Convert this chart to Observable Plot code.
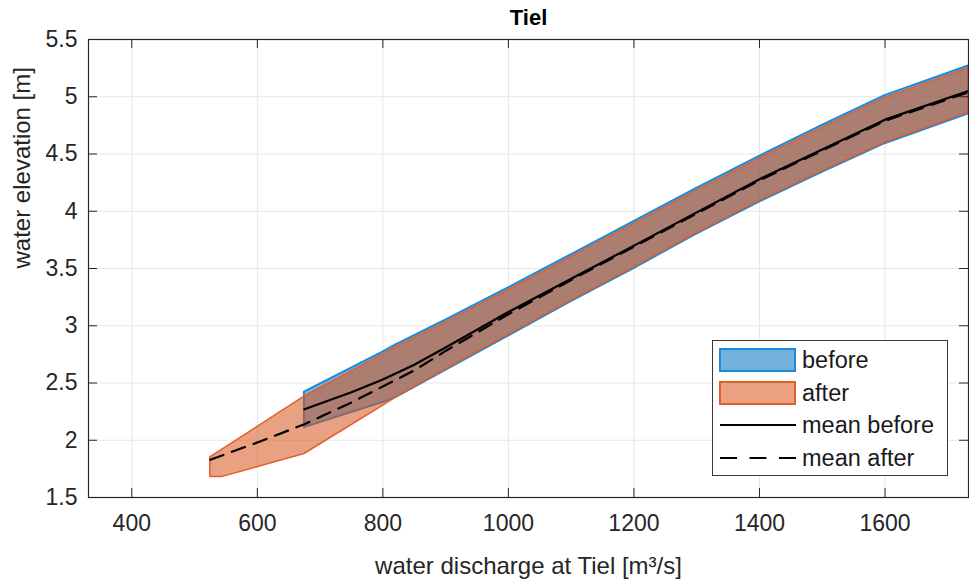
<!DOCTYPE html>
<html><head><meta charset="utf-8">
<script src="https://cdn.jsdelivr.net/npm/d3@7"></script>
<script src="https://cdn.jsdelivr.net/npm/@observablehq/plot@0.6"></script>
<style>
body{margin:0;background:#fff;font-family:"Liberation Sans",Arial,sans-serif;}
#wrap{position:relative;width:969px;height:585px;}
#legend{position:absolute;left:712px;top:340px;width:236px;height:136px;border:1px solid #3a3a3a;background:#fff;box-sizing:border-box;}
.row{position:absolute;left:6px;height:26px;display:flex;align-items:center;color:#1a1a1a;font-size:23.5px;}
.sw{width:77px;height:24px;box-sizing:border-box;margin-right:6px;}
</style></head>
<body><div id="wrap"></div>
<script>
// ---- data ----
const title = "Tiel";
const xLabel = "water discharge at Tiel [m³/s]";
const yLabel = "water elevation [m]";
const xTicks = [400, 600, 800, 1000, 1200, 1400, 1600];
const yTicks = [1.5, 2, 2.5, 3, 3.5, 4, 4.5, 5, 5.5];
const xDomain = [331, 1733];
const yDomain = [1.5, 5.5];

const beforeQ    = [675, 800, 820, 900, 1000, 1100, 1200, 1300, 1400, 1500, 1600, 1733];
const beforeLow  = [2.11, 2.33, 2.37, 2.61, 2.91, 3.21, 3.50, 3.80, 4.08, 4.34, 4.59, 4.85];
const beforeHigh = [2.42, 2.77, 2.83, 3.05, 3.33, 3.62, 3.91, 4.20, 4.48, 4.75, 5.01, 5.27];

const afterQ    = [525, 545, 675, 800, 820, 900, 1000, 1100, 1200, 1300, 1400, 1500, 1600, 1733];
const afterLow  = [1.68, 1.68, 1.88, 2.30, 2.37, 2.62, 2.92, 3.22, 3.51, 3.81, 4.09, 4.35, 4.60, 4.86];
const afterHigh = [1.85, 1.92, 2.38, 2.75, 2.81, 3.03, 3.31, 3.60, 3.89, 4.18, 4.46, 4.73, 4.99, 5.25];

const meanBeforeQ = [675, 750, 800, 850, 900, 1000, 1100, 1200, 1300, 1400, 1500, 1600, 1733];
const meanBeforeY = [2.27, 2.42, 2.53, 2.66, 2.81, 3.12, 3.41, 3.70, 3.99, 4.28, 4.54, 4.80, 5.05];

const meanAfterQ = [525, 600, 675, 750, 800, 850, 900, 1000, 1100, 1200, 1300, 1400, 1500, 1600, 1733];
const meanAfterY = [1.83, 1.98, 2.14, 2.33, 2.47, 2.61, 2.78, 3.10, 3.40, 3.69, 3.98, 4.27, 4.53, 4.79, 5.04];

const seriesNames = ["before", "after", "mean before", "mean after"];
const colBeforeFill = "#0072BD", colBeforeEdge = "#1a8ae0";
const colAfterFill = "#D95319", colAfterEdge = "#e0602a";
const opBefore = 0.55, opAfter = 0.55;

// ---- tables ----
const before = beforeQ.map((q, i) => ({q, lo: beforeLow[i], hi: beforeHigh[i]}));
const after = afterQ.map((q, i) => ({q, lo: afterLow[i], hi: afterHigh[i]}));
const mBefore = meanBeforeQ.map((q, i) => ({q, y: meanBeforeY[i]}));
const mAfter = meanAfterQ.map((q, i) => ({q, y: meanAfterY[i]}));

const ink = "#262626";
const frameH = 585 - 39 - 88, frameW = 969 - 88 - 1, tickLen = 9;

const chart = Plot.plot({
  width: 969, height: 585,
  marginLeft: 88, marginRight: 1, marginTop: 39, marginBottom: 88,
  x: {domain: xDomain},
  y: {domain: yDomain},
  style: {fontFamily: '"Liberation Sans", Arial, sans-serif', fontSize: "23px", color: ink, background: "#fff"},
  marks: [
    Plot.gridX(xTicks, {stroke: "#e6e6e6", strokeOpacity: 1}),
    Plot.gridY(yTicks, {stroke: "#e6e6e6", strokeOpacity: 1}),
    Plot.areaY(before, {x: "q", y1: "lo", y2: "hi", fill: colBeforeFill, fillOpacity: opBefore, stroke: colBeforeEdge, strokeWidth: 2, clip: true}),
    Plot.areaY(after, {x: "q", y1: "lo", y2: "hi", fill: colAfterFill, fillOpacity: opAfter, stroke: colAfterEdge, strokeWidth: 1.5, clip: true}),
    Plot.line(mBefore, {x: "q", y: "y", stroke: "#000", strokeWidth: 2.2, clip: true}),
    Plot.line(mAfter, {x: "q", y: "y", stroke: "#000", strokeWidth: 2.2, strokeDasharray: "14,9", clip: true}),
    Plot.frame({stroke: ink, strokeWidth: 1.2}),
    Plot.tickX(xTicks, {x: d => d, insetTop: frameH - tickLen, stroke: ink}),
    Plot.tickX(xTicks, {x: d => d, insetBottom: frameH - tickLen, stroke: ink}),
    Plot.tickY(yTicks, {y: d => d, insetRight: frameW - tickLen, stroke: ink}),
    Plot.tickY(yTicks, {y: d => d, insetLeft: frameW - tickLen, stroke: ink}),
    Plot.axisX(xTicks, {tickSize: 0, tickPadding: 17, label: null, tickFormat: d => String(d), fontSize: 23}),
    Plot.axisY(yTicks, {tickSize: 0, tickPadding: 11, label: null, tickFormat: d => String(d), fontSize: 23}),
    Plot.text([xLabel], {frameAnchor: "bottom", dy: 76, text: d => d, fontSize: 24, fill: ink}),
    Plot.text([yLabel], {frameAnchor: "left", dx: -66, rotate: -90, text: d => d, fontSize: 24, fill: ink}),
    Plot.text([title], {frameAnchor: "top", dy: -30, text: d => d, fontSize: 22, fontWeight: "bold", fill: "#000"})
  ]
});
const wrap = document.getElementById("wrap");
wrap.appendChild(chart);

// ---- legend ----
const leg = document.createElement("div");
leg.id = "legend";
const rowTops = [6, 39, 71, 104];
seriesNames.forEach((name, i) => {
  const row = document.createElement("div");
  row.className = "row";
  row.style.top = rowTops[i] + "px";
  let sw;
  if (i < 2) {
    sw = document.createElement("div");
    sw.className = "sw";
    const c = d3.color(i === 0 ? colBeforeFill : colAfterFill);
    c.opacity = i === 0 ? opBefore : opAfter;
    sw.style.background = c.formatRgb();
    sw.style.border = "2px solid " + (i === 0 ? colBeforeEdge : colAfterEdge);
  } else {
    sw = document.createElementNS("http://www.w3.org/2000/svg", "svg");
    sw.setAttribute("width", 77); sw.setAttribute("height", 24);
    sw.style.marginRight = "6px";
    const ln = document.createElementNS("http://www.w3.org/2000/svg", "line");
    ln.setAttribute("x1", 1); ln.setAttribute("x2", 77); ln.setAttribute("y1", 12); ln.setAttribute("y2", 12);
    ln.setAttribute("stroke", "#000"); ln.setAttribute("stroke-width", 2.2);
    if (i === 3) ln.setAttribute("stroke-dasharray", "17,12.5");
    sw.appendChild(ln);
  }
  row.appendChild(sw);
  const t = document.createElement("span");
  t.textContent = name;
  row.appendChild(t);
  leg.appendChild(row);
});
wrap.appendChild(leg);
</script></body></html>
